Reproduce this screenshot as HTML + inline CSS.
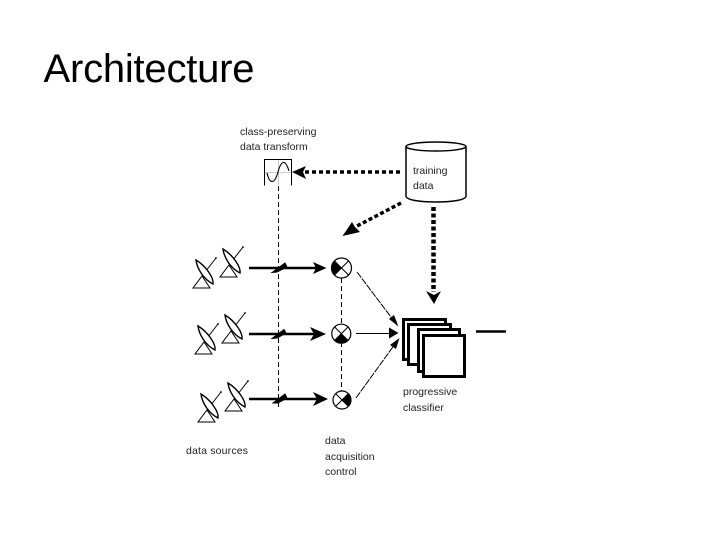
<!DOCTYPE html>
<html><head><meta charset="utf-8"><style>
html,body{margin:0;padding:0;background:#fff}
svg{display:block}
text{font-family:"Liberation Sans",sans-serif}
.l{font-size:10.500px;fill:#222}
</style></head><body>
<svg width="720" height="540" viewBox="0 0 720 540" xmlns="http://www.w3.org/2000/svg">
<defs>
<g id="dish" fill="none" stroke="#000">
<path d="M0 0H17L9 -12Z" stroke-width="1"/>
<path d="M9 -12L23 -30" stroke-width="1"/>
<path d="M3 -28C4 -20 10 -9 20 -4C21 -10 13 -22 3 -28Z" fill="#fff" stroke-width="1.400"/>
<circle cx="23" cy="-30" r=".9" fill="#000" stroke="none"/>
</g>
</defs>
<text x="43.500" y="82" font-size="40" fill="#000" textLength="211">Architecture</text>

<!-- transform box -->
<path d="M278.500 160V185M264 172.500H291" stroke="#ccc" stroke-width="1"/>
<path d="M264.500 185.500V159.500H291.500V185.500" fill="none" stroke="#000" stroke-width="1"/>
<path d="M267 173C270 186 275 183 278 172C281 161 285 158 289 171" fill="none" stroke="#000" stroke-width="1.100"/>

<!-- cylinder -->
<path d="M406 146.500V196C406 200 420 202 436 202C452 202 466 200 466 196V146.500" fill="#fff" stroke="#000" stroke-width="1.500"/>
<ellipse cx="436" cy="146.500" rx="30" ry="4.500" fill="#fff" stroke="#000" stroke-width="1.500"/>

<!-- labels -->
<text class="l" x="240" y="135">class-preserving</text>
<text class="l" x="240" y="150">data transform</text>
<text class="l" x="413" y="174">training</text>
<text class="l" x="413" y="189">data</text>
<text class="l" x="403" y="395">progressive</text>
<text class="l" x="403" y="411">classifier</text>
<text class="l" x="186" y="454" textLength="62">data sources</text>
<text class="l" x="325" y="444">data</text>
<text class="l" x="325" y="460">acquisition</text>
<text class="l" x="325" y="475">control</text>

<!-- thick dotted arrows -->
<path d="M400 172H305" stroke="#000" stroke-width="3.500" stroke-dasharray="4 3" fill="none"/>
<path d="M292 172L306 166L303 172L306 179Z" fill="#000"/>
<path d="M401 203L357 226" stroke="#000" stroke-width="3.500" stroke-dasharray="4 2.500" fill="none"/>
<path d="M342.500 236L352 222L355 227L360 232Z" fill="#000"/>
<path d="M433.500 207V292" stroke="#000" stroke-width="4.500" stroke-dasharray="4 2.500" fill="none"/>
<path d="M426 291L434 295L441 291L434 304Z" fill="#000"/>

<!-- dashed verticals -->
<path d="M278.500 186V407" stroke="#000" stroke-width="1" stroke-dasharray="5 3" fill="none"/>
<path d="M341.500 278V391" stroke="#000" stroke-width="1" stroke-dasharray="5 3" fill="none"/>

<!-- signal arrows -->
<g fill="#000" stroke="#000">
<path d="M249 268H320" stroke-width="2.500"/><path d="M326.500 268L313 262L316 268L313 274Z" stroke="none"/>
<path d="M272 272.500L285 263L287 267L277 272Z" stroke-width="1"/>
<path d="M249 334H318" stroke-width="2.500"/><path d="M326 334L310 327L314 334L310 341Z" stroke="none"/>
<path d="M272 338.500L284 329.500L286 333L277 338Z" stroke-width="1"/>
<path d="M249 399H320" stroke-width="2.500"/><path d="M328 399L313 392L317 399L313 406Z" stroke="none"/>
<path d="M273 403L285 394L287 398L278 403Z" stroke-width="1"/>
</g>

<!-- mixers -->
<g stroke="#000" stroke-width="1.200" fill="#fff">
<circle cx="341.500" cy="268" r="10"/><circle cx="341.300" cy="333.700" r="9.500"/><circle cx="342" cy="400" r="9"/>
</g>
<g fill="#000">
<path d="M334.400 260.900A10 10 0 0 0 334.400 275.100L341.500 268Z"/>
<path d="M334.600 340.400A9.500 9.500 0 0 0 348 340.400L341.300 333.700Z"/>
<path d="M348.400 393.600A9 9 0 0 1 348.400 406.400L342 400Z"/>
</g>
<g stroke="#000" stroke-width="1">
<path d="M334.400 260.900L348.600 275.100M348.600 260.900L334.400 275.100"/>
<path d="M334.600 327L348 340.400M348 327L334.600 340.400"/>
<path d="M335.600 393.600L348.400 406.400M348.400 393.600L335.600 406.400"/>
</g>

<!-- dishes -->
<use href="#dish" x="193" y="288"/>
<use href="#dish" x="220" y="277"/>
<use href="#dish" x="195" y="354"/>
<use href="#dish" x="222" y="343"/>
<use href="#dish" x="198" y="422"/>
<use href="#dish" x="225" y="411"/>

<!-- connectors into classifier -->
<g stroke="#000" stroke-width="1" fill="none">
<path d="M357 272L394 321" stroke-dasharray="7 1"/>
<path d="M356 333.500H392"/>
<path d="M356 398L395 344" stroke-dasharray="7 1"/>
</g>
<g fill="#000">
<path d="M398.500 326.500L389 319L394 315Z"/>
<path d="M398.500 333L389 327.500V338.500Z"/>
<path d="M399.500 338L396 349L390 345Z"/>
</g>

<!-- classifier stacks -->
<g fill="#fff" stroke="#000" stroke-width="3">
<rect x="403.500" y="319.500" width="42" height="40"/>
<rect x="408.500" y="324.500" width="42" height="40"/>
<rect x="418.500" y="329.500" width="41" height="42"/>
<rect x="423.500" y="335.500" width="41" height="41"/>
</g>

<path d="M476 331.500H506" stroke="#000" stroke-width="2.500"/>
</svg>
</body></html>
